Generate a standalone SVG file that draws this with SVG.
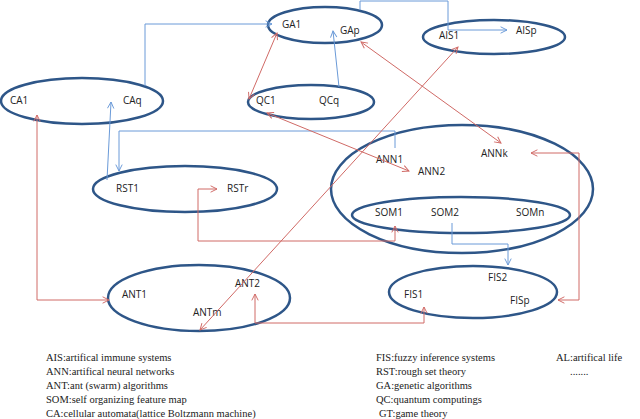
<svg xmlns="http://www.w3.org/2000/svg" width="640" height="419" viewBox="0 0 640 419">
<defs>
<marker id="a" viewBox="0 0 10 10" refX="9" refY="5" markerWidth="8" markerHeight="8" orient="auto-start-reverse" markerUnits="userSpaceOnUse"><path d="M1,1 L9,5 L1,9" fill="none" stroke="context-stroke" stroke-width="1.2"/></marker>
<style>
.e{fill:none;stroke:#2E5688;stroke-width:2.5}
.t{font-family:"Open Sans","Liberation Sans",sans-serif;font-size:10px;fill:#222}
.l{font-family:"Liberation Serif",serif;font-size:10.5px;fill:#222}
.b{fill:none;stroke:#6A9AD8;stroke-width:1}
.r{fill:none;stroke:#D06A66;stroke-width:1}
</style>
</defs>
<rect width="640" height="419" fill="#fff"/>
<g id="GA"><ellipse class="e" cx="325" cy="25" rx="57" ry="18"/><text class="t" x="282" y="28">GA1</text><text class="t" x="340" y="34">GAp</text></g>
<g id="AIS"><ellipse class="e" cx="494" cy="37" rx="71" ry="17"/><text class="t" x="439" y="39">AIS1</text><text class="t" x="516" y="34">AISp</text></g>
<g id="CA"><ellipse class="e" cx="82" cy="101" rx="81" ry="23"/><text class="t" x="10" y="104">CA1</text><text class="t" x="123" y="104">CAq</text></g>
<g id="QC"><ellipse class="e" cx="311" cy="102" rx="63" ry="17"/><text class="t" x="256" y="104">QC1</text><text class="t" x="319" y="104">QCq</text></g>
<g id="ANN"><ellipse class="e" cx="462" cy="189" rx="131" ry="64"/><text class="t" x="376" y="163">ANN1</text><text class="t" x="418" y="175">ANN2</text><text class="t" x="481" y="157">ANNk</text></g>
<g id="SOM"><ellipse class="e" cx="461" cy="215" rx="109" ry="18"/><text class="t" x="375" y="216">SOM1</text><text class="t" x="431" y="216">SOM2</text><text class="t" x="516" y="216">SOMn</text></g>
<g id="RST"><ellipse class="e" cx="185" cy="189" rx="92" ry="23"/><text class="t" x="116" y="192">RST1</text><text class="t" x="227" y="192">RSTr</text></g>
<g id="ANT"><ellipse class="e" cx="199" cy="298" rx="91" ry="33"/><text class="t" x="122" y="298">ANT1</text><text class="t" x="235" y="287">ANT2</text><text class="t" x="193" y="316">ANTm</text></g>
<g id="FIS"><ellipse class="e" cx="473" cy="292" rx="84" ry="26"/><text class="t" x="488" y="281">FIS2</text><text class="t" x="404" y="298">FIS1</text><text class="t" x="510" y="304">FISp</text></g>
<g id="connectors">
<path class="b" d="M145,86 V24 H272" marker-end="url(#a)"/>
<path class="b" d="M360,10 V1 H448 V30 H507" marker-end="url(#a)"/>
<path class="b" d="M339,87 L333,31" marker-end="url(#a)"/>
<path class="b" d="M107,180 L111,102" marker-end="url(#a)"/>
<path class="b" d="M395,148 V131 H119 V171" marker-end="url(#a)"/>
<path class="b" d="M452,223 V244 H508 V265" marker-end="url(#a)"/>
<path class="r" d="M277,33 L249,99" marker-start="url(#a)" marker-end="url(#a)"/>
<path class="r" d="M361,42 L501,143" marker-start="url(#a)" marker-end="url(#a)"/>
<path class="r" d="M267,113 L409,171" marker-start="url(#a)" marker-end="url(#a)"/>
<path class="r" d="M458,47 L200,330" marker-start="url(#a)" marker-end="url(#a)"/>
<path class="r" d="M109,300 H37 V115" marker-start="url(#a)" marker-end="url(#a)"/>
<path class="r" d="M395,226 V241 H198 V189 H217" marker-start="url(#a)" marker-end="url(#a)"/>
<path class="r" d="M558,300 H579 V153 H531" marker-start="url(#a)" marker-end="url(#a)"/>
<path class="r" d="M255,294 V323 H424 V307" marker-start="url(#a)" marker-end="url(#a)"/>
</g>
<g id="legend">
<text class="l" x="46" y="361">AIS:artifical immune systems</text>
<text class="l" x="46" y="375">ANN:artifical neural networks</text>
<text class="l" x="46" y="389">ANT:ant (swarm) algorithms</text>
<text class="l" x="46" y="403">SOM:self organizing feature map</text>
<text class="l" x="46" y="417">CA:cellular automata(lattice Boltzmann machine)</text>
<text class="l" x="376" y="361">FIS:fuzzy inference systems</text>
<text class="l" x="376" y="375">RST:rough set theory</text>
<text class="l" x="376" y="389">GA:genetic algorithms</text>
<text class="l" x="376" y="403">QC:quantum computings</text>
<text class="l" x="379" y="417">GT:game theory</text>
<text class="l" x="556" y="361">AL:artifical life</text>
<text class="l" x="570" y="375">.......</text>
</g>
</svg>
